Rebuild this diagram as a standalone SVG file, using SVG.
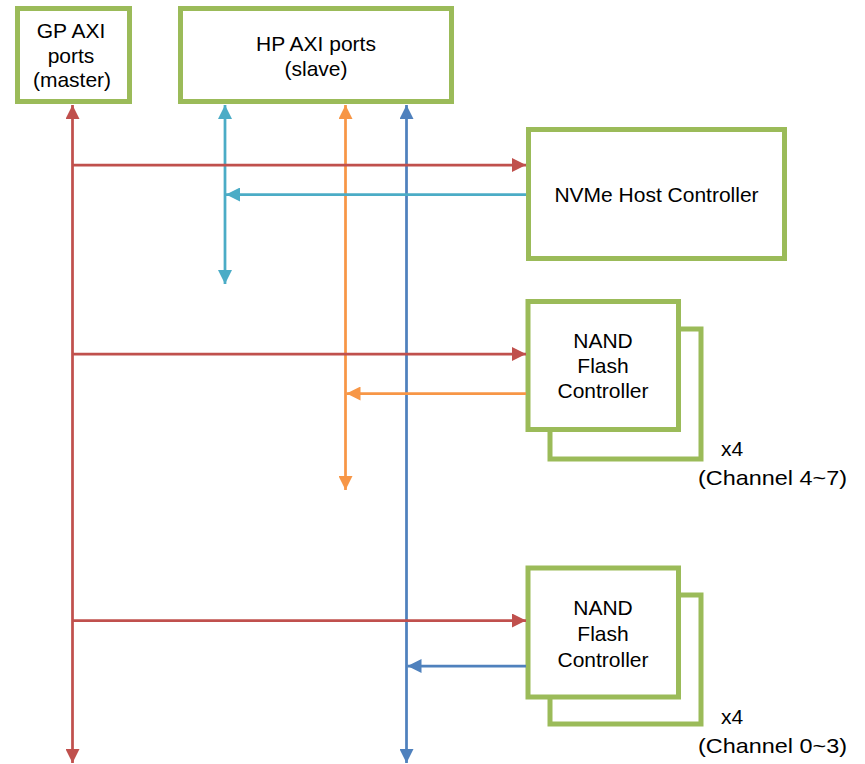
<svg xmlns="http://www.w3.org/2000/svg" width="865" height="764" viewBox="0 0 865 764">
<style>
.box{fill:#fff;stroke:#9BBB59;stroke-width:5}
.t{font-family:"Liberation Sans",Arial,sans-serif;font-size:21px;fill:#000}
.c{text-anchor:middle}
.ln{fill:none;stroke-width:2.75}
.r{stroke:#C0504D}
.cy{stroke:#4BACC6}
.o{stroke:#F79646}
.b{stroke:#4F81BD}
</style>
<defs>
<marker id="ar" viewBox="0 0 14 14" refX="14" refY="7" markerWidth="14" markerHeight="14" markerUnits="userSpaceOnUse" orient="auto-start-reverse"><path d="M0,0 L14,7 L0,14 z" fill="#C0504D"/></marker>
<marker id="acy" viewBox="0 0 14 14" refX="14" refY="7" markerWidth="14" markerHeight="14" markerUnits="userSpaceOnUse" orient="auto-start-reverse"><path d="M0,0 L14,7 L0,14 z" fill="#4BACC6"/></marker>
<marker id="ao" viewBox="0 0 14 14" refX="14" refY="7" markerWidth="14" markerHeight="14" markerUnits="userSpaceOnUse" orient="auto-start-reverse"><path d="M0,0 L14,7 L0,14 z" fill="#F79646"/></marker>
<marker id="ab" viewBox="0 0 14 14" refX="14" refY="7" markerWidth="14" markerHeight="14" markerUnits="userSpaceOnUse" orient="auto-start-reverse"><path d="M0,0 L14,7 L0,14 z" fill="#4F81BD"/></marker>
</defs>
<g id="gp">
<rect class="box" x="17.5" y="8.5" width="112" height="93"/>
<text class="t c" x="71" y="38">GP AXI</text>
<text class="t c" x="71" y="63">ports</text>
<text class="t c" x="72" y="87">(master)</text>
</g>
<g id="hp">
<rect class="box" x="180.5" y="8.5" width="271" height="93"/>
<text class="t c" x="316" y="51">HP AXI ports</text>
<text class="t c" x="316" y="76">(slave)</text>
</g>
<g id="nvme">
<rect class="box" x="528.5" y="129.5" width="256" height="129"/>
<text class="t c" x="656.5" y="202">NVMe Host Controller</text>
</g>
<g id="nand1">
<rect class="box" x="550" y="329" width="151" height="130"/>
<rect class="box" x="528" y="301.5" width="150.5" height="128"/>
<text class="t c" x="603" y="348">NAND</text>
<text class="t c" x="603" y="373">Flash</text>
<text class="t c" x="603" y="398">Controller</text>
<text class="t" x="721" y="456">x4</text>
<text class="t" x="698" y="485" textLength="149" lengthAdjust="spacingAndGlyphs">(Channel 4~7)</text>
</g>
<g id="nand2">
<rect class="box" x="550" y="595" width="151" height="129"/>
<rect class="box" x="528" y="568" width="150.5" height="129"/>
<text class="t c" x="603" y="615">NAND</text>
<text class="t c" x="603" y="641">Flash</text>
<text class="t c" x="603" y="667">Controller</text>
<text class="t" x="721" y="724">x4</text>
<text class="t" x="698" y="753" textLength="149" lengthAdjust="spacingAndGlyphs">(Channel 0~3)</text>
</g>
<g id="connectors">
<line class="ln r" x1="72.5" y1="105" x2="72.5" y2="763" marker-start="url(#ar)" marker-end="url(#ar)"/>
<line class="ln cy" x1="225" y1="105" x2="225" y2="284" marker-start="url(#acy)" marker-end="url(#acy)"/>
<line class="ln o" x1="345.5" y1="105" x2="345.5" y2="490" marker-start="url(#ao)" marker-end="url(#ao)"/>
<line class="ln b" x1="406.5" y1="105" x2="406.5" y2="763" marker-start="url(#ab)" marker-end="url(#ab)"/>
<line class="ln r" x1="72.5" y1="165" x2="526" y2="165" marker-end="url(#ar)"/>
<line class="ln cy" x1="526" y1="194.5" x2="226" y2="194.5" marker-end="url(#acy)"/>
<line class="ln r" x1="72.5" y1="354" x2="526" y2="354" marker-end="url(#ar)"/>
<line class="ln o" x1="526" y1="393.5" x2="346.5" y2="393.5" marker-end="url(#ao)"/>
<line class="ln r" x1="72.5" y1="620.5" x2="526" y2="620.5" marker-end="url(#ar)"/>
<line class="ln b" x1="526" y1="666" x2="407.5" y2="666" marker-end="url(#ab)"/>
</g>
</svg>
